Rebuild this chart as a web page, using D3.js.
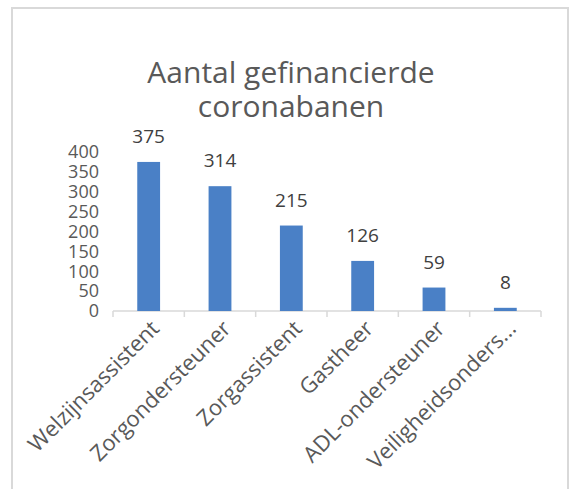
<!DOCTYPE html>
<html>
<head>
<meta charset="utf-8">
<script src="https://cdn.jsdelivr.net/npm/d3@7"></script>
<style>
    body { margin: 0; background: #ffffff; }
    text { font-family: "Open Sans", "Liberation Sans", sans-serif; }
</style>
</head>
<body>
<div id="chart"></div>
<script>
/**********************************************************************/
// DATA:
/**********************************************************************/
const categories = ['Welzijnsassistent', 'Zorgondersteuner', 'Zorgassistent',
                    'Gastheer', 'ADL-ondersteuner', 'Veiligheidsonders...'];
const values = [375, 314, 215, 126, 59, 8];
const yTicks = [0, 50, 100, 150, 200, 250, 300, 350, 400];
const titleLines = ['Aantal gefinancierde', 'coronabanen'];

/**********************************************************************/
// CHART DEFINITIONS:
/**********************************************************************/
const svgWidth = 574;
const svgHeight = 489;

const margin = { top: 152, right: 33, bottom: 178, left: 113 };
const chartWidth = 541 - margin.left;
const chartHeight = 311 - margin.top;

let svg = d3.select('#chart')
            .append('svg')
            .attr('width', svgWidth)
            .attr('height', svgHeight);

// outer chart border (bottom cut off like the screenshot)
svg.append('path')
   .attr('d', `M12,${svgHeight + 2} V8 H568 V${svgHeight + 2}`)
   .attr('fill', 'none')
   .attr('stroke', '#d9d9d9')
   .attr('stroke-width', 2);

// title
svg.append('text')
   .attr('x', 291)
   .attr('text-anchor', 'middle')
   .attr('fill', '#595959')
   .style('font-size', '30px')
   .selectAll('tspan')
   .data(titleLines)
   .join('tspan')
   .attr('x', 291)
   .attr('y', (d, i) => 83 + i * 34)
   .text(d => d);

let chartGroup = svg.append('g')
                    .attr('transform', `translate(${margin.left}, ${margin.top})`);

/**********************************************************************/
// SCALES & AXES:
/**********************************************************************/
let xScale = d3.scaleBand()
               .domain(categories)
               .range([0, chartWidth])
               .paddingInner(0.68)
               .paddingOuter(0.34);

let yScale = d3.scaleLinear()
               .domain([0, 400])
               .range([chartHeight, 0]);

// y axis: labels only
let yAxis = chartGroup.append('g')
                      .call(d3.axisLeft(yScale).tickValues(yTicks).tickSize(0).tickPadding(14));
yAxis.select('.domain').remove();
yAxis.selectAll('text')
     .attr('fill', '#595959')
     .style('font-size', '18px');

// x axis: line + ticks at category boundaries
let xAxis = chartGroup.append('g')
                      .attr('transform', `translate(0, ${chartHeight})`);
xAxis.append('line')
     .attr('x1', 0).attr('x2', chartWidth)
     .attr('stroke', '#d9d9d9').attr('stroke-width', 1.5);
const step = xScale.step();
xAxis.selectAll('.tick')
     .data(d3.range(categories.length + 1))
     .join('line')
     .attr('class', 'tick')
     .attr('x1', d => d * step).attr('x2', d => d * step)
     .attr('y1', 0).attr('y2', 6)
     .attr('stroke', '#d9d9d9').attr('stroke-width', 1.5);

// category labels rotated -45
xAxis.selectAll('.cat')
     .data(categories)
     .join('text')
     .attr('class', 'cat')
     .attr('text-anchor', 'end')
     .attr('fill', '#595959')
     .style('font-size', '22px')
     .attr('transform', d => `translate(${xScale(d) + xScale.bandwidth() / 2 + 12}, 19) rotate(-45)`)
     .text(d => d);

/**********************************************************************/
// BARS & LABELS:
/**********************************************************************/
chartGroup.selectAll('.bar')
          .data(values)
          .join('rect')
          .attr('class', 'bar')
          .attr('x', (d, i) => xScale(categories[i]))
          .attr('y', d => yScale(d))
          .attr('width', xScale.bandwidth())
          .attr('height', d => chartHeight - yScale(d))
          .attr('fill', '#4a80c6');

chartGroup.selectAll('.val')
          .data(values)
          .join('text')
          .attr('class', 'val')
          .attr('text-anchor', 'middle')
          .attr('fill', '#404040')
          .style('font-size', '19px')
          .attr('x', (d, i) => xScale(categories[i]) + xScale.bandwidth() / 2)
          .attr('y', d => yScale(d) - 19)
          .text(d => d);
</script>
</body>
</html>
